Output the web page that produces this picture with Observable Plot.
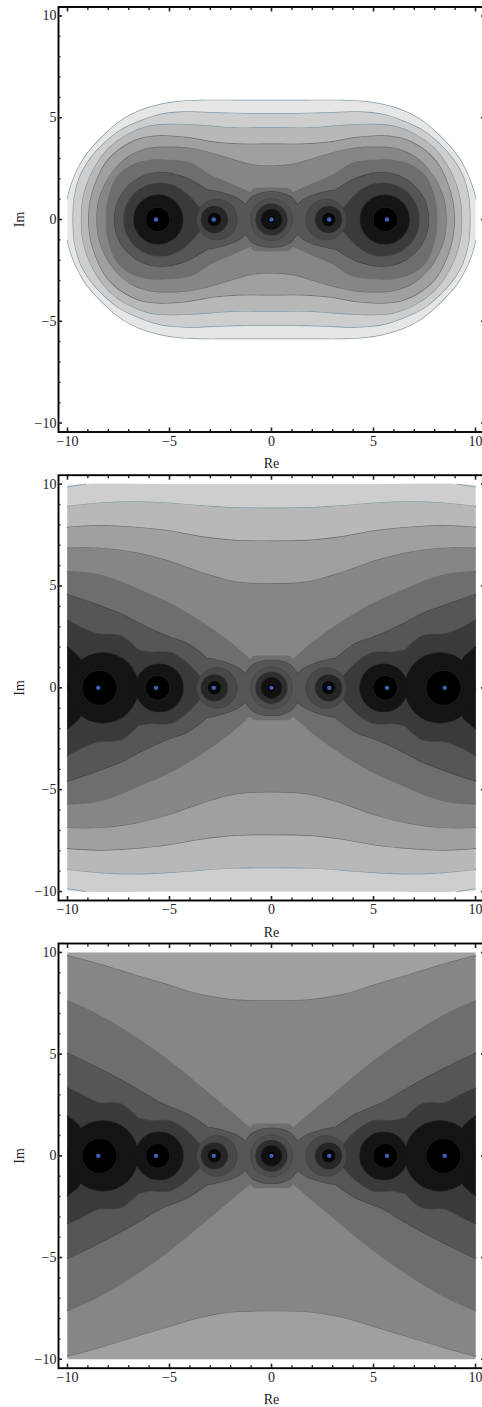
<!DOCTYPE html>
<html><head><meta charset="utf-8">
<style>html,body{margin:0;padding:0;background:#fff}svg{display:block}</style>
<script src="https://cdn.jsdelivr.net/npm/d3@7"></script>
<script src="https://cdn.jsdelivr.net/npm/@observablehq/plot@0.6"></script>
</head><body><div id="c"></div>
<script>
// Upper-left quadrant outlines [Re, Im], per contour level.
const panel1Contours = {
 1:[[-10,1.03],[-9.85,1.6],[-9.6,2.25],[-9.2,3.0],[-8.7,3.64],[-8.05,4.3],[-7.24,4.95],[-6.42,5.36],[-5.44,5.65],[-4.46,5.8],[-3.48,5.85],[-1.8,5.85],[0,5.85]],
 2:[[-9.72,0],[-9.71,.5],[-9.66,1.1],[-9.36,2.17],[-8.87,3.0],[-8.22,3.72],[-7.4,4.38],[-6.42,4.84],[-5.44,5.16],[-4.13,5.28],[-2.66,5.23],[-1.19,5.2],[0,5.2]],
 3:[[-9.31,0],[-9.3,.4],[-9.25,.95],[-9.0,1.85],[-8.55,2.75],[-7.9,3.56],[-7.0,4.2],[-6.0,4.58],[-4.95,4.67],[-3.48,4.62],[-1.85,4.5],[0,4.5]],
 4:[[-8.95,0],[-8.94,.4],[-8.87,.95],[-8.63,1.76],[-8.14,2.75],[-7.4,3.48],[-6.42,3.97],[-5.44,4.1],[-4.13,4.02],[-2.83,3.8],[-1.52,3.7],[0,3.7]],
 5:[[-8.55,0],[-8.54,.4],[-8.46,.95],[-8.14,1.76],[-7.65,2.5],[-6.9,3.15],[-5.93,3.5],[-4.95,3.55],[-4.1,3.5],[-3.3,3.35],[-2.17,3.02],[-1.03,2.7],[0,2.62]],
 6:[[-8.09,0],[-8.07,.5],[-7.97,1.1],[-7.56,2.09],[-6.83,2.66],[-5.77,2.92],[-4.95,2.9],[-3.97,2.76],[-3,2.17],[-1.86,1.68],[-1.03,1.3],[-1.03,1.3],[-.88,1.48],[-.4,1.53],[0,1.55]],
 7:[[-4.95,2.25],[-4.13,2.02],[-3.15,1.44],[-3.15,1.44],[-2.84,1.4],[-1.68,1.04],[-1.27,.7],[-1.27,.7],[-.95,1.1],[-.4,1.32],[0,1.35]],
 8:[[-4.95,1.68],[-4.2,1.27],[-3.64,.7],[-3.64,.7],[-3.5,.55]]
};
const panel2Contours = {
 2:[[-10,9.87],[-9.1,10],[-5,10],[0,10]],
 3:[[-10,8.9],[-8.38,9.07],[-6.75,9.13],[-5.11,9.07],[-3.48,8.94],[-1.85,8.84],[0,8.82]],
 4:[[-10,7.88],[-8.38,7.96],[-6.75,7.88],[-5.11,7.71],[-3.48,7.42],[-1.85,7.24],[0,7.2]],
 5:[[-10,6.85],[-8.38,6.85],[-6.75,6.65],[-5.11,6.24],[-3.48,5.67],[-1.85,5.21],[0,5.1]],
 6:[[-10,5.7],[-8.71,5.59],[-7.57,5.26],[-6.42,4.77],[-5.11,4.2],[-3.48,3.25],[-2.17,2.33],[-1.03,1.35],[-1.03,1.35],[-.88,1.53],[-.4,1.55],[0,1.55]],
 7:[[-10,4.58],[-8.7,4.13],[-7.4,3.64],[-6.57,3.2],[-5.44,2.66],[-4.95,2.47],[-4.13,2.17],[-3.15,1.44],[-3.15,1.44],[-2.84,1.4],[-1.68,1.0],[-1.27,.68],[-1.27,.68],[-.95,1.1],[-.4,1.32],[0,1.35]],
 8:[[-10,3.33],[-9.36,2.97],[-8.54,2.65],[-7.9,2.62],[-7.4,2.55],[-6.9,2.2],[-6.58,1.87],[-6.58,1.87],[-5.93,1.74],[-5.4,1.76],[-4.95,1.73],[-4.2,1.27],[-3.64,.7],[-3.64,.7],[-3.5,.55]],
 9:[[-10,2.0],[-9.7,1.75],[-9.4,1.45],[-9.2,.8]]
};
const panel3Contours = {
 5:[[-10,9.84],[-8.38,9.4],[-6.75,8.9],[-5.11,8.41],[-3.48,7.92],[-1.85,7.66],[0,7.61]],
 6:[[-10,7.6],[-9.2,7.27],[-8.38,6.86],[-6.75,5.88],[-4.95,4.6],[-3.48,3.4],[-2.17,2.3],[-1.03,1.33],[-1.03,1.33],[-.88,1.53],[-.4,1.55],[0,1.55]],
 7:[[-10,5.03],[-9.2,4.66],[-7.9,4.0],[-6.58,3.27],[-5.44,2.6],[-4.95,2.4],[-4.13,2.05],[-3.15,1.4],[-3.15,1.4],[-2.84,1.36],[-1.68,1.0],[-1.27,.68],[-1.27,.68],[-.95,1.1],[-.4,1.32],[0,1.35]],
 8:[[-10,3.33],[-9.36,3.04],[-8.48,2.6],[-7.9,2.6],[-7.4,2.55],[-6.9,2.2],[-6.58,1.86],[-6.58,1.86],[-5.93,1.72],[-5.4,1.74],[-4.95,1.71],[-4.2,1.25],[-3.64,.7],[-3.64,.7],[-3.5,.55]],
 9:[[-10,1.96],[-9.7,1.72],[-9.4,1.42],[-9.2,.8]]
};
// Discs [level, Re centre, radius].
const panel1Discs = [[7,-5.4,2.3],[8,-5.45,1.79],[9,-5.55,1.2],[10,-5.58,.58]];
const panel2Discs = [[9,-8.26,1.72],[9,-5.5,1.17],[10,-8.43,.84],[10,-5.58,.58]];
const panel3Discs = [[9,-8.26,1.72],[9,-5.5,1.17],[10,-8.43,.84],[10,-5.58,.58]];
// Rings round the inner poles [shade, Re centre, radius].
const innerRings = [[11,-2.68,1.0],[12,-2.8,.66],[13,-2.8,.33],[10,-2.83,.15],[14,0,1.03],[15,0,.78],[16,0,.52],[10,0,.2]];
const panel1Poles = [-5.66,-2.83,0,2.83,5.66];
const panel2Poles = [-8.49,-5.66,-2.83,0,2.83,5.66,8.49];
const panel3Poles = panel2Poles;
const panel2Corner = [[-10,9.87],[-9.1,10]];
const majorTicks = [-10,-5,0,5,10];
const minorTicks = [-9,-8,-7,-6,-4,-3,-2,-1,1,2,3,4,6,7,8,9];
const shades = {1:"#e6e6e6",2:"#cecece",3:"#b8b8b8",4:"#a0a0a0",5:"#868686",6:"#6e6e6e",7:"#565656",8:"#3a3a3a",9:"#141414",10:"#000000",
  11:"#484848",12:"#262626",13:"#060606",14:"#4e4e4e",15:"#2e2e2e",16:"#101010"};

function lineColor(l){return l<=3?"#8497a2":l<=6?"#666f75":l<=8?"#444444":"#222222";}
function shapes(pts){
  const last=pts[pts.length-1];
  const right=pts.slice().reverse().filter(p=>p[0]!==0).map(p=>[-p[0],p[1]]);
  const groups=last[0]===0?[[...pts,...right]]:[pts,right];
  const rows=[];
  groups.forEach((g,i)=>g.forEach(p=>rows.push({x:p[0],top:p[1],bot:-p[1],g:i})));
  return rows;
}
function panel(contours,discs,poles,opts){
  const marks=[];
  const levels=[1,2,3,4,5,6,7,8,9,10];
  for(const l of levels){
    const fill=shades[l],sc=lineColor(l);
    const rows=contours[l]?shapes(contours[l]):null;
    const ds=[];
    discs.filter(d=>d[0]===l).forEach(d=>{ds.push({x:d[1],r:d[2]});ds.push({x:-d[1],r:d[2]});});
    const noLine=opts.noLine&&opts.noLine.includes(l);
    if(rows&&!noLine){
      marks.push(Plot.line(rows,{x:"x",y:"top",z:"g",stroke:sc,strokeWidth:1.4,curve:"catmull-rom"}));
      marks.push(Plot.line(rows,{x:"x",y:"bot",z:"g",stroke:sc,strokeWidth:1.4,curve:"catmull-rom"}));
    }
    if(ds.length) marks.push(Plot.dot(ds,{x:"x",y:()=>0,r:"r",stroke:sc,strokeWidth:1.2,fill:"none"}));
    if(rows) marks.push(Plot.areaY(rows,{x:"x",y1:"bot",y2:"top",z:"g",fill,curve:"catmull-rom",dx:.5,dy:.5}));
    if(ds.length) marks.push(Plot.dot(ds,{x:"x",y:()=>0,r:"r",fill,stroke:"none"}));
  }
  const rr=[];
  innerRings.forEach((d,i)=>{rr.push({x:d[1],r:d[2],s:shades[d[0]],i}); if(d[1]!==0) rr.push({x:-d[1],r:d[2],s:shades[d[0]],i});});
  marks.push(Plot.dot(rr,{x:"x",y:()=>0,r:"r",fill:"s",stroke:"#2e2e2e",strokeWidth:.3,sort:{channel:"-r"}}));
  marks.push(Plot.dot(poles,{x:d=>d,y:()=>0,r:2.2,fill:"#3f63b8",stroke:"none"}));
  if(opts.extra) marks.push(...opts.extra);
  marks.push(
    Plot.frame({stroke:"#000",strokeWidth:1.9}),
    Plot.axisX({anchor:"bottom",ticks:majorTicks,tickSize:-4,tickPadding:8,strokeWidth:1.6,fill:"#222",label:"Re",labelAnchor:"center",labelArrow:"none",labelOffset:36}),
    Plot.axisX({anchor:"bottom",ticks:minorTicks,tickSize:-2.5,strokeWidth:1.4,text:null,label:null}),
    Plot.axisX({anchor:"top",ticks:majorTicks,tickSize:-4,strokeWidth:1.6,text:null,label:null}),
    Plot.axisX({anchor:"top",ticks:minorTicks,tickSize:-2.5,strokeWidth:1.4,text:null,label:null}),
    Plot.axisY({anchor:"left",ticks:majorTicks,tickSize:-4,tickPadding:6,strokeWidth:1.6,fill:"#222",label:"Im",labelAnchor:"center",labelArrow:"none",labelOffset:44}),
    Plot.axisY({anchor:"left",ticks:minorTicks,tickSize:-2.5,strokeWidth:1.4,text:null,label:null}),
    Plot.axisY({anchor:"right",ticks:majorTicks,tickSize:-4,strokeWidth:1.6,text:null,label:null}),
    Plot.axisY({anchor:"right",ticks:minorTicks,tickSize:-3,strokeWidth:1.4,text:null,label:null})
  );
  const svg=Plot.plot({
    width:482,height:opts.h,marginLeft:58,marginRight:-2,marginTop:opts.t,marginBottom:opts.b,
    style:{fontFamily:"'Liberation Serif',serif",fontSize:"14px",color:"#222",background:"transparent"},
    x:{domain:[-10.44,10.44]},y:{domain:[-10.44,10.44]},
    r:{type:"linear",domain:[0,1],range:[0,20.4]},
    marks
  });
  if(opts.pull) svg.style.marginBottom=(-opts.pull)+"px";
  return svg;
}
const c=document.getElementById("c");
c.append(panel(panel1Contours,panel1Discs,panel1Poles,{h:470,t:6.5,b:38.5}));
const cornerRows=[[1,1],[1,-1],[-1,1],[-1,-1]].flatMap(([a,b],i)=>panel2Corner.map(p=>({x:a*p[0],y:b*p[1],g:i})));
const base=[[-10,10],[0,10]];
c.append(panel({1:base,...panel2Contours},panel2Discs,panel2Poles,{h:473,t:4.7,b:43,pull:8,noLine:[1,2],
  extra:[Plot.line(cornerRows,{x:"x",y:"y",z:"g",stroke:"#7c94a2",strokeWidth:.8})]}));
c.append(panel({4:base,...panel3Contours},panel3Discs,panel3Poles,{h:472,t:8,b:39.3,noLine:[4]}));
</script></body></html>
